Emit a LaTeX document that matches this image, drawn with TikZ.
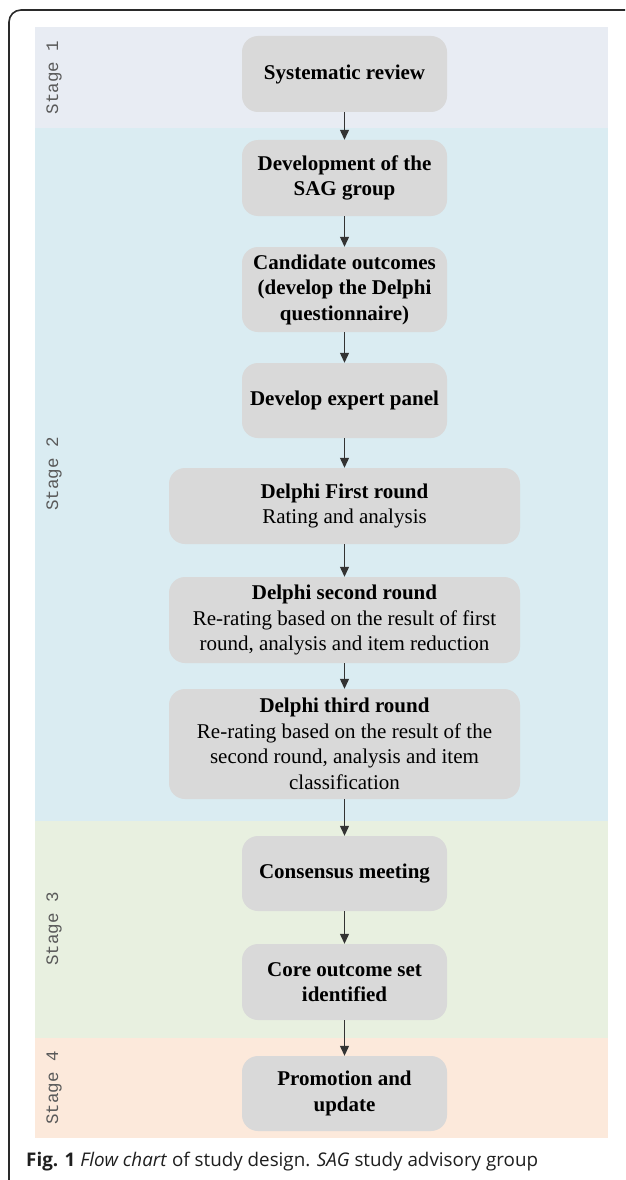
\documentclass[tikz,border=0pt]{standalone}
\usepackage{fontspec}
\setmainfont{Liberation Serif}
\newfontfamily\capfont{Open Sans}
\newfontfamily\stagefont{Liberation Mono}
\usetikzlibrary{arrows.meta}
\definecolor{sOne}{HTML}{E8ECF3}
\definecolor{sTwo}{HTML}{DAECF2}
\definecolor{sThree}{HTML}{E8F0E0}
\definecolor{sFour}{HTML}{FCE9DB}
\definecolor{boxgray}{HTML}{D9D9D9}
\definecolor{arrowgray}{HTML}{333333}
\definecolor{framegray}{HTML}{2A2A2A}
\definecolor{stagegray}{HTML}{5A5A5A}
\begin{document}
\begin{tikzpicture}[x=1pt,y=-1pt,
  stepbox/.style={draw=none, fill=boxgray, rounded corners=16pt, align=center, inner sep=0pt,
    minimum width=205pt, minimum height=76pt, font=\fontsize{21}{25.5}\selectfont\bfseries},
  widebox/.style={stepbox, minimum width=351pt, font=\fontsize{21}{25.5}\selectfont},
  flow/.style={draw=arrowgray, line width=1.2pt, -{Triangle[length=10pt,width=9pt]}},
  stagelabel/.style={rotate=90, font=\stagefont\fontsize{17.5}{17.5}\selectfont, text=stagegray, inner sep=0pt}
]
\useasboundingbox (0,0) rectangle (625,1180);
\fill[white] (0,0) rectangle (625,1180);
% stage bands
\fill[sOne] (35,27) rectangle (608,128);
\fill[sTwo] (35,128) rectangle (608,821);
\fill[sThree] (35,821) rectangle (608,1038);
\fill[sFour] (35,1038) rectangle (608,1138);
% frame
\draw[framegray, line width=1.6pt, rounded corners=12pt] (9,1180) -- (9,10) -- (625,10);
% stage labels
\node[stagelabel] (st1) at (54,77.5) {Stage 1};
\node[stagelabel] (st2) at (54,474) {Stage 2};
\node[stagelabel] (st3) at (54,929) {Stage 3};
\node[stagelabel] (st4) at (54,1088) {Stage 4};
% boxes
\node[stepbox] (sr) at (344.5,74) {Systematic review};
\node[stepbox] (dev) at (344.5,178) {Development of the\\SAG group};
\node[stepbox, minimum height=85pt] (cand) at (344.5,289.5) {Candidate outcomes\\(develop the Delphi\\questionnaire)};
\node[stepbox, minimum height=75pt] (exp) at (344.5,400.5) {Develop expert panel};
\node[widebox] (d1) at (344.5,506) {\textbf{Delphi First round}\\Rating and analysis};
\node[widebox, minimum height=86pt] (d2) at (344.5,620) {\textbf{Delphi second round}\\Re-rating based on the result of first\\round, analysis and item reduction};
\node[widebox, minimum height=110pt] (d3) at (344.5,744) {\textbf{Delphi third round}\\Re-rating based on the result of the\\second round, analysis and item\\classification};
\node[stepbox, minimum height=75pt] (cons) at (344.5,873.5) {Consensus meeting};
\node[stepbox] (core) at (344.5,982) {Core outcome set\\identified};
\node[stepbox, minimum height=75pt] (prom) at (344.5,1093.5) {Promotion and\\update};
% arrows
\draw[flow] (sr) -- (dev);
\draw[flow] (dev) -- (cand);
\draw[flow] (cand) -- (exp);
\draw[flow] (exp) -- (d1);
\draw[flow] (d1) -- (d2);
\draw[flow] (d2) -- (d3);
\draw[flow] (d3) -- (cons);
\draw[flow] (cons) -- (core);
\draw[flow] (core) -- (prom);
% caption
\node[anchor=base west, inner sep=0pt, font=\capfont\fontsize{18.8}{18.8}\selectfont, text=black!88] (cap) at (26,1166)
  {\textbf{Fig. 1} \textit{Flow chart} of study design. \textit{SAG} study advisory group};
\end{tikzpicture}
\end{document}
